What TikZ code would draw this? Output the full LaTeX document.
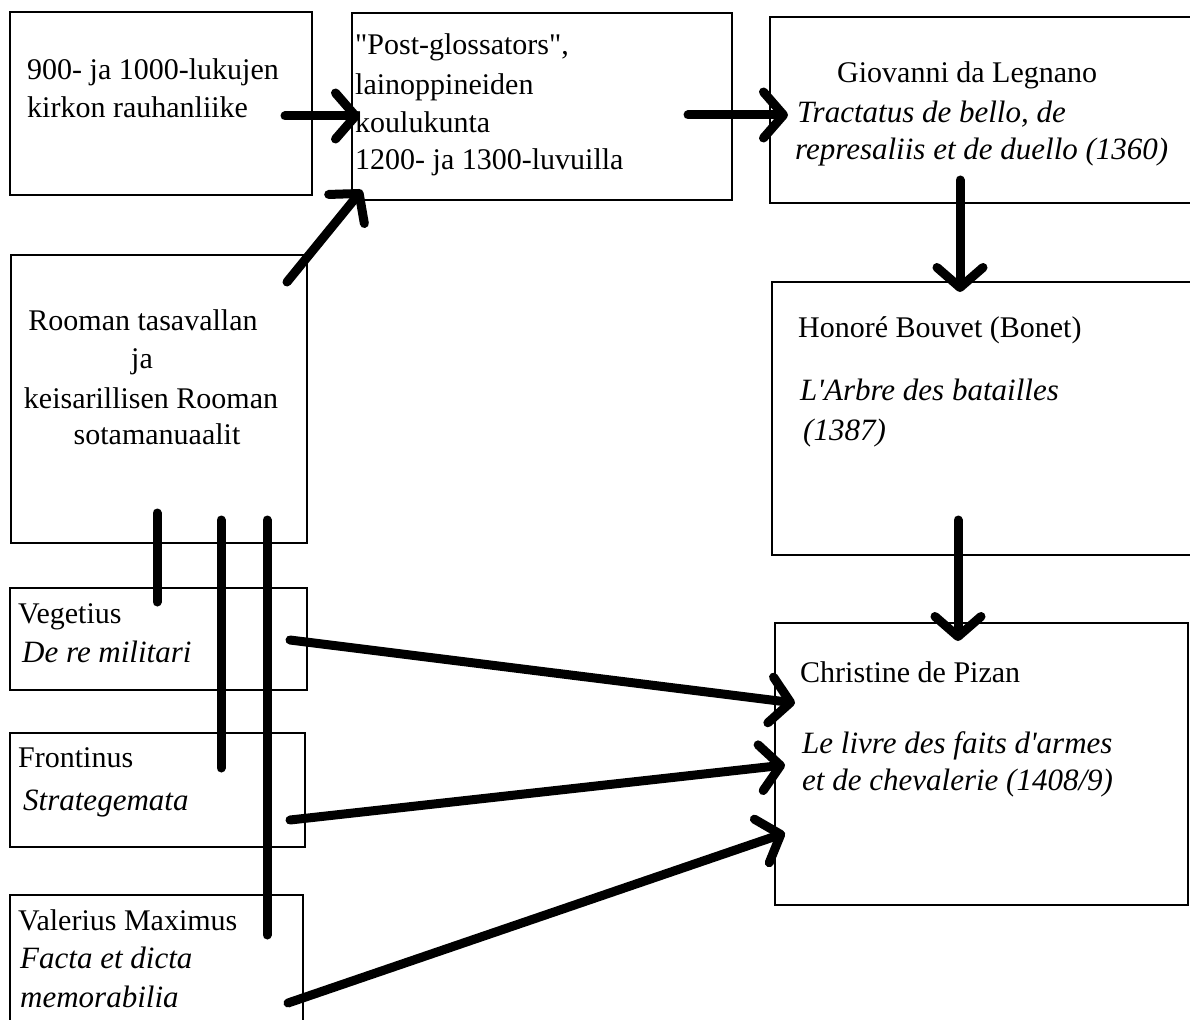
\documentclass[tikz,border=0pt]{standalone}
\usepackage{fontspec}
\setmainfont{Liberation Serif}
\newfontfamily\lsr{Liberation Serif}
\usetikzlibrary{arrows.meta}
\begin{document}
\begin{tikzpicture}[x=1pt,y=-1pt,
  box/.style={draw, line width=1.6pt, anchor=north west, inner sep=0pt, outer sep=0pt},
  txt/.style={anchor=base west, inner sep=0pt, font=\lsr\fontsize{30}{38}\selectfont},
  itx/.style={anchor=base west, inner sep=0pt, font=\lsr\fontsize{31}{38}\selectfont\itshape},
  ctx/.style={anchor=base, inner sep=0pt, font=\lsr\fontsize{30}{38}\selectfont},
  conn/.style={line width=9pt, line cap=round, line join=round},
  arr/.style={conn, -{Straight Barb[length=20pt,width=46pt,round]}}
]
\useasboundingbox (0,0) rectangle (1190,1019);
\clip (0,0) rectangle (1190,1019);
\fill[white] (0,0) rectangle (1190,1019);

% boxes
\node[box, minimum width=302pt, minimum height=183pt] (b1) at (10,12) {};
\node[box, minimum width=380pt, minimum height=187pt] (b2) at (352,13) {};
\node[box, minimum width=440pt, minimum height=186pt] (b3) at (770,17) {};
\node[box, minimum width=440pt, minimum height=273pt] (b4) at (772,282) {};
\node[box, minimum width=413pt, minimum height=282pt] (b5) at (775,623) {};
\node[box, minimum width=296pt, minimum height=288pt] (b6) at (11,255) {};
\node[box, minimum width=297pt, minimum height=102pt] (b7) at (10,588) {};
\node[box, minimum width=295pt, minimum height=114pt] (b8) at (10,733) {};
\node[box, minimum width=293pt, minimum height=150pt] (b9) at (10,895) {};

% texts
\node[txt] (t1a) at (27,80) {900- ja 1000-lukujen};
\node[txt] (t1b) at (27,118) {kirkon rauhanliike};

\node[txt] (t2a) at (355,55) {"Post-glossators",};
\node[txt] (t2b) at (355,95) {lainoppineiden};
\node[txt] (t2c) at (355,133) {koulukunta};
\node[txt] (t2d) at (355,170) {1200- ja 1300-luvuilla};

\node[txt] (t3a) at (837,83) {Giovanni da Legnano};
\node[itx] (t3b) at (797,123) {Tractatus de bello, de};
\node[itx] (t3c) at (795,160) {represaliis et de duello (1360)};

\node[txt] (t4a) at (798,337) {Honoré Bouvet (Bonet)};
\node[itx] (t4b) at (800,400) {L'Arbre des batailles};
\node[itx] (t4c) at (803,440) {(1387)};

\node[txt] (t5a) at (800,682) {Christine de Pizan};
\node[itx] (t5b) at (802,753) {Le livre des faits d'armes};
\node[itx] (t5c) at (802,790) {et de chevalerie (1408/9)};

\node[ctx] (t6a) at (143,330) {Rooman tasavallan};
\node[ctx] (t6b) at (142,368) {ja};
\node[ctx] (t6c) at (151,408) {keisarillisen Rooman};
\node[ctx] (t6d) at (157,444) {sotamanuaalit};

\node[txt] (t7a) at (18,623) {Vegetius};
\node[itx] (t7b) at (22,662) {De re militari};

\node[txt] (t8a) at (18,767) {Frontinus};
\node[itx] (t8b) at (23,810) {Strategemata};

\node[txt] (t9a) at (18,930) {Valerius Maximus};
\node[itx] (t9b) at (20,968) {Facta et dicta};
\node[itx] (t9c) at (20,1007) {memorabilia};

% connector end points
\coordinate (a1s) at (285,116);  \coordinate (a1e) at (360,116);
\coordinate (a2s) at (688,115);  \coordinate (a2e) at (788,115);
\coordinate (a3s) at (287,282);  \coordinate (a3e) at (362,190);
\coordinate (a4s) at (960,180);  \coordinate (a4e) at (960,292);
\coordinate (a5s) at (958,520);  \coordinate (a5e) at (958,641);
\coordinate (a6s) at (290,640);  \coordinate (a6e) at (795,703);
\coordinate (a7s) at (290,820);  \coordinate (a7e) at (785,765);
\coordinate (a8s) at (288,1003); \coordinate (a8e) at (785,833);
\coordinate (l1s) at (157,513);  \coordinate (l1e) at (157,602);
\coordinate (l2s) at (221,520);  \coordinate (l2e) at (221,768);
\coordinate (l3s) at (267,520);  \coordinate (l3e) at (267,935);

% arrows
\draw[arr] (a1s) -- (a1e);
\draw[arr] (a2s) -- (a2e);
\draw[arr] (a3s) -- (a3e);
\draw[arr] (a4s) -- (a4e);
\draw[arr] (a5s) -- (a5e);
\draw[arr] (a6s) -- (a6e);
\draw[arr] (a7s) -- (a7e);
\draw[arr] (a8s) -- (a8e);

% plain lines
\draw[conn] (l1s) -- (l1e);
\draw[conn] (l2s) -- (l2e);
\draw[conn] (l3s) -- (l3e);
\end{tikzpicture}
\end{document}
